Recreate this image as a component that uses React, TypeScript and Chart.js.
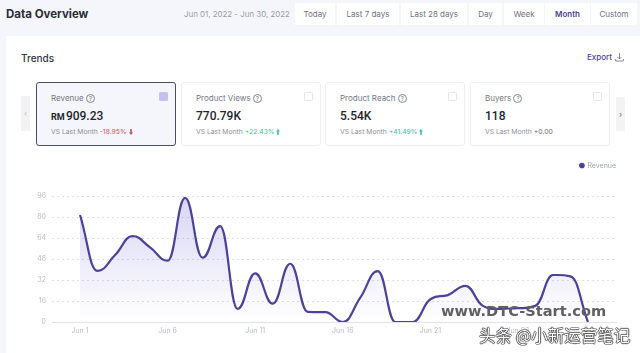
import React, { useEffect, useRef } from "react";
import { Chart, registerables } from "chart.js";

Chart.register(...registerables);

const seriesName = "Revenue";
const revenue = [81.5, 39, 51, 65.4, 56.8, 46.7, 94.5, 49, 73, 10, 37, 14, 44.4, 7.7, 7.5, 0, 18.5, 38.8, 0, 0, 17.3, 20.5, 27.6, 12.3, 10, 10.6, 12.3, 35.8, 34.8, 0];
const dayLabels = ["Jun 1", "Jun 6", "Jun 11", "Jun 16", "Jun 21", "Jun 26"];
const dayTicks = [0, 5, 10, 15, 20, 25];
const yMax = 96;
const yStep = 16;
const tabs: [string, number, number][] = [["Today", 295, 41], ["Last 7 days", 337, 63], ["Last 28 days", 401, 67], ["Day", 469, 34], ["Week", 504, 41], ["Month", 545, 46], ["Custom", 591, 47]];
const cards = [
  { name: "Revenue", pre: "RM", value: "909.23", delta: "-18.95%", arrow: "down", color: "#c8505c", x: 36, w: 140, active: true },
  { name: "Product Views", pre: "", value: "770.79K", delta: "+22.43%", arrow: "up", color: "#45bba8", x: 181, w: 140, active: false },
  { name: "Product Reach", pre: "", value: "5.54K", delta: "+41.49%", arrow: "up", color: "#45bba8", x: 325, w: 140, active: false },
  { name: "Buyers", pre: "", value: "118", delta: "+0.00", arrow: "", color: "#666a75", x: 470, w: 140, active: false },
];

const FONT = "Inter, 'Noto Sans', sans-serif";
const abs = (x: number, y: number, extra: React.CSSProperties = {}): React.CSSProperties => ({ position: "absolute", left: x, top: y, whiteSpace: "nowrap", ...extra });

const legendSpacer = {
  id: "legendSpacer",
  beforeInit(chart: any) {
    const fit = chart.legend.fit;
    chart.legend.fit = function () {
      fit.call(this);
      this.height += 17;
    };
  },
};

// Lengthens the library's monotone bezier handles so that peaks and troughs come out rounder.
const roundCurve = {
  id: "roundCurve",
  afterDatasetsUpdate(chart: any) {
    const line = chart.getDatasetMeta(0).dataset;
    line.updateControlPoints(chart.chartArea, "x");
    const k = 1.35;
    for (const p of chart.getDatasetMeta(0).data) {
      p.cp1x = p.x + (p.cp1x - p.x) * k;
      p.cp1y = p.y + (p.cp1y - p.y) * k;
      p.cp2x = p.x + (p.cp2x - p.x) * k;
      p.cp2y = p.y + (p.cp2y - p.y) * k;
    }
  },
};

export default function App() {
  const ref = useRef<HTMLCanvasElement>(null);
  useEffect(() => {
    const chart = new Chart(ref.current!, {
      type: "line",
      plugins: [legendSpacer, roundCurve],
      data: {
        datasets: [{
          label: seriesName,
          data: revenue.map((v, i) => ({ x: i, y: v })),
          borderColor: "#4d4299",
          borderWidth: 2.2,
          pointRadius: 0,
          cubicInterpolationMode: "monotone",
          fill: "origin",
          backgroundColor: (c: any) => {
            const a = c.chart.chartArea;
            if (!a) return "rgba(90,80,200,0.1)";
            const g = c.chart.ctx.createLinearGradient(0, a.top, 0, a.bottom);
            g.addColorStop(0, "rgba(92,82,205,0.24)");
            g.addColorStop(1, "rgba(92,82,205,0)");
            return g;
          },
        }],
      } as any,
      options: {
        animation: false,
        responsive: false,
        layout: { padding: { left: 0, right: 24, top: 7, bottom: 0 } },
        plugins: {
          tooltip: { enabled: false },
          legend: {
            position: "top",
            align: "end",
            labels: {
              usePointStyle: true,
              pointStyle: "circle",
              boxWidth: 4,
              boxHeight: 4,
              color: "#a2a4ae",
              font: { size: 7, family: FONT },
              padding: 0,
              generateLabels: () => [{ text: seriesName, fillStyle: "#4d4299", strokeStyle: "#4d4299", lineWidth: 0, pointStyle: "circle", datasetIndex: 0, fontColor: "#a2a4ae" }],
            },
          },
        },
        scales: {
          x: {
            type: "linear",
            min: -1.6,
            max: 30.6,
            afterBuildTicks: (s: any) => { s.ticks = dayTicks.map((v) => ({ value: v })); },
            afterFit: (s: any) => { s.height = 31; },
            grid: { display: false, drawTicks: false },
            border: { color: "#e2e3e8", width: 1 },
            ticks: {
              color: "#b9bbc2",
              font: { size: 7, family: FONT },
              maxRotation: 0,
              autoSkip: false,
              padding: 5,
              callback: (v: any) => dayLabels[dayTicks.indexOf(v)] ?? "",
            },
          },
          y: {
            min: 0,
            max: yMax,
            afterFit: (s: any) => { s.width = 52; },
            grid: { color: (c: any) => (c.tick.value === 0 ? "rgba(0,0,0,0)" : "#dfe0e6"), drawTicks: false },
            border: { display: false, dash: [2, 3] },
            ticks: { stepSize: yStep, color: "#b9bbc2", font: { size: 7, family: FONT }, padding: 6 },
          },
        },
      } as any,
    });
    return () => chart.destroy();
  }, []);

  return (
    <div style={{ position: "fixed", inset: 0, overflow: "hidden", background: "#f5f6fc", fontFamily: FONT, filter: "blur(0.45px)" }}>
      <div style={abs(6, 6, { fontSize: 11.5, fontWeight: 700, color: "#2b2d36", lineHeight: "16px" })}>Data Overview</div>
      <div style={abs(184, 9, { fontSize: 7.9, color: "#9a9ca6", lineHeight: "11px" })}>Jun 01, 2022 - Jun 30, 2022</div>
      {tabs.map(([t, x, w]) => (
        <div key={t} style={abs(x, 3, { width: w - 1, height: 22, background: "#fff", textAlign: "center", fontSize: 8, lineHeight: "22px", color: t === "Month" ? "#4d4299" : "#6f717c", fontWeight: t === "Month" ? 600 : 400 })}>{t}</div>
      ))}
      <div style={abs(6, 36, { width: 640, height: 330, background: "#fff" })} />
      <div style={abs(21, 51, { fontSize: 10, fontWeight: 500, color: "#33353f", lineHeight: "14px" })}>Trends</div>
      <div style={abs(587, 51, { fontSize: 8, fontWeight: 500, color: "#4d4299", lineHeight: "12px" })}>Export</div>
      <svg style={{ position: "absolute", left: 615, top: 52 }} width="9" height="10" viewBox="0 0 9 10" fill="none" stroke="#6a6d80" strokeWidth="0.8">
        <path d="M4.5 1V7M2.5 5L4.5 7L6.5 5M0.7 7V9H8.3V7" />
      </svg>
      <div style={abs(21, 96, { width: 9, height: 35, background: "#f3f3f6", color: "#bbb", fontSize: 8, lineHeight: "35px", textAlign: "center" })}>‹</div>
      <div style={abs(616, 97, { width: 9, height: 34, background: "#f3f3f6", color: "#666", fontSize: 8, lineHeight: "34px", textAlign: "center" })}>›</div>
      {cards.map((c) => (
        <div key={c.name} style={abs(c.x, 82, { width: c.w, height: 64, boxSizing: "border-box", borderRadius: 3, background: c.active ? "#f5f5fc" : "#fff", border: c.active ? "1px solid #4a4c63" : "1px solid #eeeff3" })}>
          <div style={abs(14, 9, { fontSize: 8, color: "#75777f", lineHeight: "12px" })}>{c.name} <span style={{ display: "inline-block", width: 7, height: 7, border: "1px solid #85878f", borderRadius: "50%", fontSize: 6, lineHeight: "7px", textAlign: "center", verticalAlign: "0px" }}>?</span></div>
          <div style={abs(14, 25, { fontSize: 12, fontWeight: 500, fontFamily: "Roboto, sans-serif", color: "#23252e", lineHeight: "16px" })}>{c.pre ? <span style={{ fontSize: 9, fontWeight: 700, marginRight: -1 }}>{c.pre} </span> : null}{c.value}</div>
          <div style={abs(14, 44, { fontSize: 6.8, color: "#8d8f99", lineHeight: "10px" })}>
            VS Last Month <span style={{ color: c.color }}>{c.delta}</span>{" "}
            {c.arrow ? (
              <svg width="4" height="6" viewBox="0 0 4 6" style={{ verticalAlign: "-0.5px" }} fill={c.color}>
                <path d={c.arrow === "up" ? "M2 0L4 2.6H2.8V6H1.2V2.6H0Z" : "M2 6L4 3.4H2.8V0H1.2V3.4H0Z"} />
              </svg>
            ) : null}
          </div>
          <div style={abs(c.w - 18, 9, { width: 9, height: 9, boxSizing: "border-box", borderRadius: 1.5, background: c.active ? "#c3c1f0" : "#fff", border: c.active ? "none" : "1px solid #e4e5ea" })} />
        </div>
      ))}
      <canvas ref={ref} width={640} height={198} style={{ position: "absolute", left: 0, top: 155, width: 640, height: 198 }} />
      <div style={abs(441, 302, { fontSize: 14.6, fontWeight: 700, fontFamily: "'DejaVu Sans', sans-serif", color: "#5f5f64", lineHeight: "18px" })}>www.DTC-Start.com</div>
      <div style={abs(479, 324, { fontSize: 16.5, fontFamily: "'Noto Sans CJK SC', sans-serif", color: "#fff", lineHeight: "22px", textShadow: "0 0 1px #111, 0 0 1px #111, 0 0 1px #111, 0 0 1px #111, 0 0 1px #111" })}>头条 @小新运营笔记</div>
    </div>
  );
}
